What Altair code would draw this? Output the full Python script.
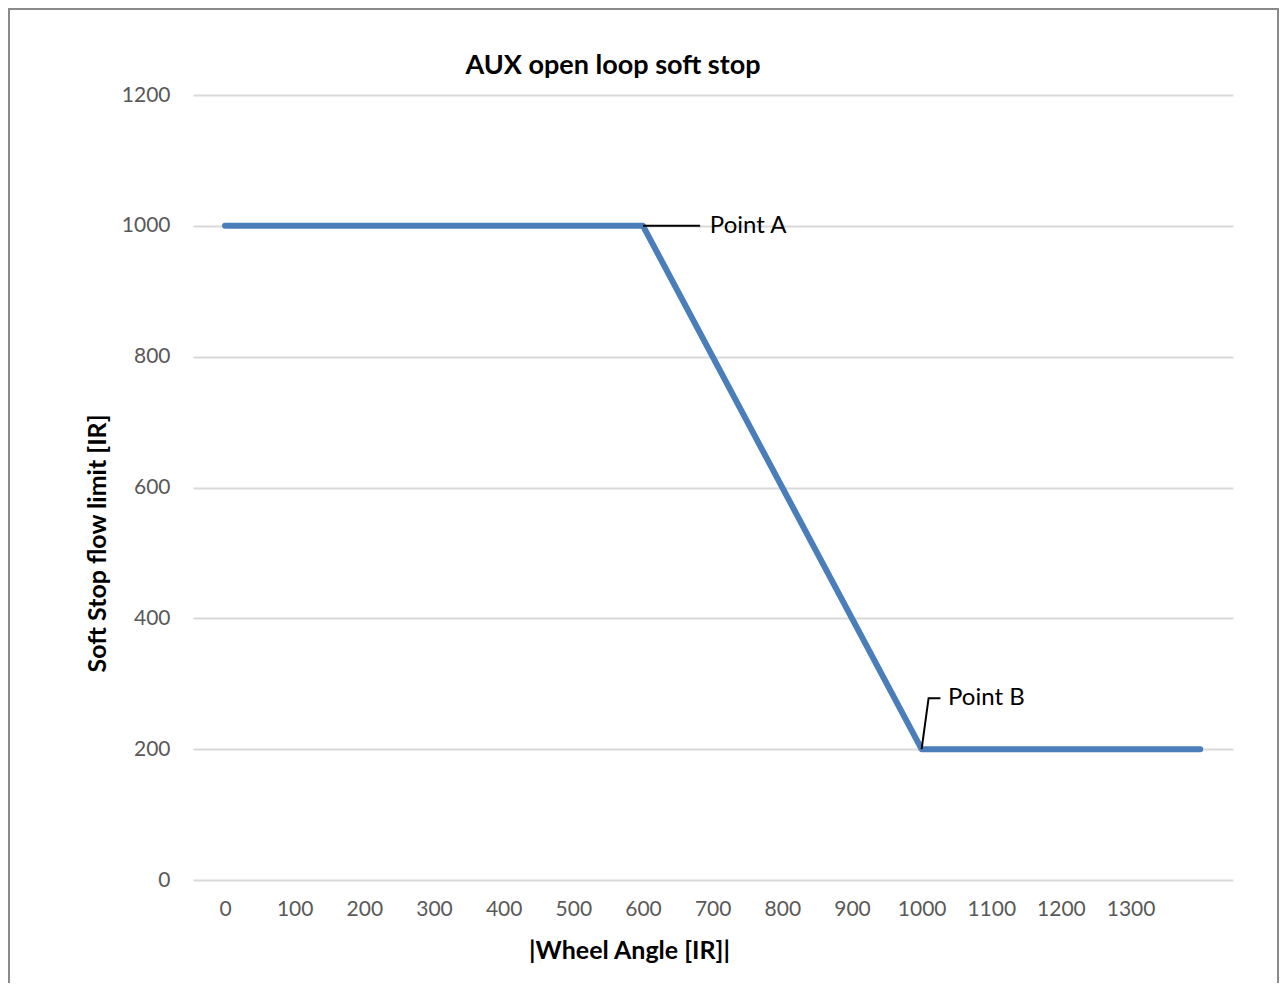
import altair as alt
import pandas as pd

# Main series
wheel_angle = [0, 600, 1000, 1400]
flow_limit = [1000, 1000, 200, 200]

# Axis ticks
x_ticks = [0, 100, 200, 300, 400, 500, 600, 700, 800, 900, 1000, 1100, 1200, 1300]
y_ticks = [0, 200, 400, 600, 800, 1000, 1200]

# Annotation leaders and labels (data units)
lead_grp = ["A", "A", "B", "B", "B"]
lead_x = [600, 682, 1000, 1010, 1027]
lead_y = [1000, 1000, 200, 278, 278]
lead_ord = [0, 1, 0, 1, 2]
note_text = ["Point A", "Point B"]
note_x = [696, 1038]
note_y = [1000, 278]

chart_title = "AUX open loop soft stop"

FONT = "Lato"
PW, PH = 1040, 785

line_df = pd.DataFrame({"x": wheel_angle, "y": flow_limit})
lead_df = pd.DataFrame({"x": lead_x, "y": lead_y, "g": lead_grp, "o": lead_ord})
note_df = pd.DataFrame({"x": note_x, "y": note_y, "label": note_text})

X = alt.X(
    "x:Q",
    scale=alt.Scale(domain=[-46, 1447], nice=False, zero=False),
    axis=alt.Axis(
        values=x_ticks, format="d", grid=False, domain=False, ticks=False,
        labelFont=FONT, labelFontSize=21, labelColor="#595959", labelPadding=18,
        title="|Wheel Angle [IR]|", titleFont=FONT, titleFontSize=25,
        titleFontWeight="bold", titleColor="#000000",
        titleX=436, titleY=70, titleBaseline="middle", titleAlign="center",
    ),
)
Y = alt.Y(
    "y:Q",
    scale=alt.Scale(domain=[0, 1200], nice=False),
    axis=alt.Axis(
        values=y_ticks, format="d", grid=True, gridColor="#d9d9d9", gridWidth=2,
        domain=False, ticks=False,
        labelFont=FONT, labelFontSize=21, labelColor="#595959", labelPadding=23,
        title="Soft Stop flow limit [IR]", titleFont=FONT, titleFontSize=25,
        titleFontWeight="bold", titleColor="#000000",
        titleX=-96, titleY=448, titleAngle=270, titleBaseline="middle",
        titleAlign="center",
    ),
)

border = alt.Chart(alt.Data(values=[{}])).mark_rect(
    fillOpacity=0, stroke="#8a8a8a", strokeWidth=2
).encode(
    x=alt.value(-184), x2=alt.value(1085), y=alt.value(-86), y2=alt.value(950)
)

title = alt.Chart(alt.Data(values=[{}])).mark_text(
    align="center", baseline="middle", font=FONT, fontSize=27,
    fontWeight="bold", color="#000000"
).encode(x=alt.value(420), y=alt.value(-29), text=alt.value(chart_title))

line = alt.Chart(line_df).mark_line(
    color="#4a7ebb", strokeWidth=6, strokeCap="round", strokeJoin="round"
).encode(x=X, y=Y)

leaders = alt.Chart(lead_df).mark_line(color="#000000", strokeWidth=2).encode(
    x=X, y=Y, detail="g:N", order="o:Q"
)

notes = alt.Chart(note_df).mark_text(
    align="left", baseline="middle", font=FONT, fontSize=24, color="#000000"
).encode(x=X, y=Y, text="label:N")

chart = alt.layer(border, title, line, leaders, notes).properties(
    width=PW,
    height=PH,
    background="white",
    autosize=alt.AutoSizeParams(type="none"),
    padding={"left": 185, "top": 87, "right": 46, "bottom": 103},
).configure_view(strokeWidth=0, stroke=None)

chart.save("out.html", embed_options={"renderer": "svg", "actions": False})
